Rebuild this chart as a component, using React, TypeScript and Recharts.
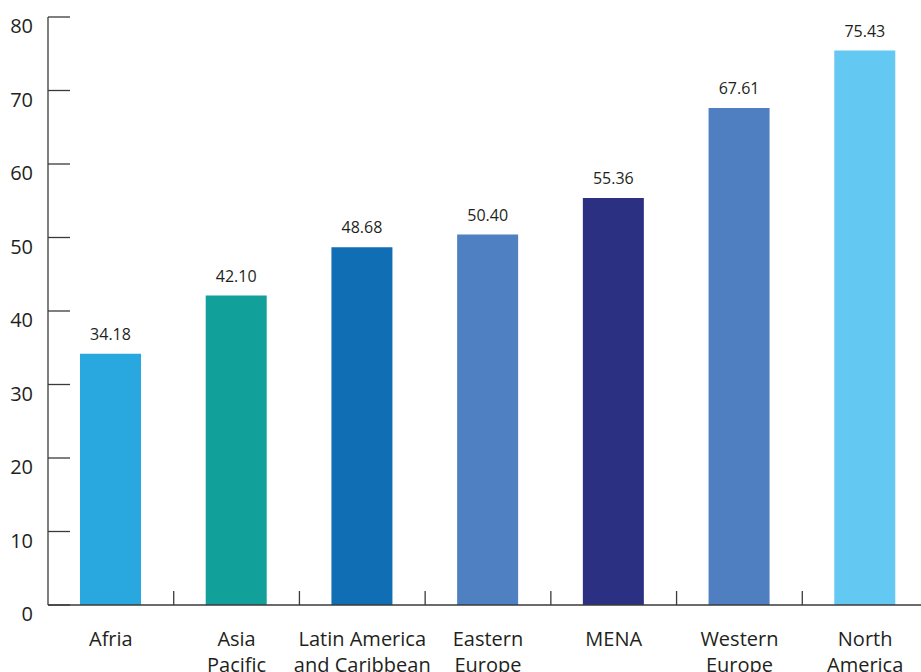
import { BarChart, Bar, XAxis, YAxis, Cell, LabelList } from 'recharts'

// regions and their values
const regions = [
  'Afria',
  'Asia\nPacific',
  'Latin America\nand Caribbean',
  'Eastern\nEurope',
  'MENA',
  'Western\nEurope',
  'North\nAmerica'
]
const values = [34.18, 42.1, 48.68, 50.4, 55.36, 67.61, 75.43]
const barColors = ['#29a8e0', '#12a09a', '#106eb5', '#4f80c1', '#2b3082', '#4f7fc1', '#63c8f2']
const yTicks = [0, 10, 20, 30, 40, 50, 60, 70, 80]

const data = regions.map((region, i) => ({ region, value: values[i] }))

const WIDTH = 930
const HEIGHT = 700
const MARGIN = { top: 9, right: 10, bottom: 0, left: 0 }
const Y_AXIS_WIDTH = 40
const BAND = (WIDTH - MARGIN.left - MARGIN.right - Y_AXIS_WIDTH) / regions.length

const FONT = '"Open Sans", sans-serif'
const TEXT = '#231f20'
const AXIS = '#3a3a3a'

function YTick(props: any) {
  const { x, y, payload } = props
  return (
    <g>
      <line x1={x} x2={x + 22} y1={y} y2={y} stroke={AXIS} strokeWidth={1.3} />
      <text x={x - 15} y={y + 16} textAnchor="end" fontSize={20} fontFamily={FONT} fill={TEXT}>
        {payload.value}
      </text>
    </g>
  )
}

function XTick(props: any) {
  const { x, y, payload, index } = props
  const lines = String(payload.value).split('\n')
  return (
    <g>
      {index > 0 && (
        <line x1={x - BAND / 2} x2={x - BAND / 2} y1={y} y2={y - 14} stroke={AXIS} strokeWidth={1.3} />
      )}
      <text x={x} y={y + 41} textAnchor="middle" fontSize={20} fontFamily={FONT} fill={TEXT}>
        {lines.map((line, i) => (
          <tspan key={i} x={x} dy={i === 0 ? 0 : 26}>
            {line}
          </tspan>
        ))}
      </text>
    </g>
  )
}

export default function App() {
  return (
    <div
      style={{
        position: 'fixed',
        top: 0,
        left: 0,
        width: 921,
        height: 672,
        overflow: 'hidden',
        background: '#fff'
      }}
    >
      <div style={{ position: 'absolute', top: 8, left: 8 }}>
        <BarChart width={WIDTH} height={HEIGHT} data={data} margin={MARGIN}>
          <XAxis
            dataKey="region"
            interval={0}
            height={HEIGHT - MARGIN.top - 588}
            tickSize={0}
            tickMargin={0}
            tickLine={false}
            axisLine={{ stroke: AXIS, strokeWidth: 1.3 }}
            tick={<XTick />}
          />
          <YAxis
            width={Y_AXIS_WIDTH}
            domain={[0, 80]}
            ticks={yTicks}
            interval={0}
            tickSize={0}
            tickMargin={0}
            tickLine={false}
            axisLine={{ stroke: AXIS, strokeWidth: 1.3 }}
            tick={<YTick />}
          />
          <Bar dataKey="value" barSize={61} isAnimationActive={false}>
            {data.map((d, i) => (
              <Cell key={d.region} fill={barColors[i]} />
            ))}
            <LabelList
              dataKey="value"
              position="top"
              offset={14}
              formatter={(v: any) => Number(v).toFixed(2)}
              style={{ fontSize: 16, fontFamily: FONT, fill: TEXT }}
            />
          </Bar>
        </BarChart>
      </div>
    </div>
  )
}
